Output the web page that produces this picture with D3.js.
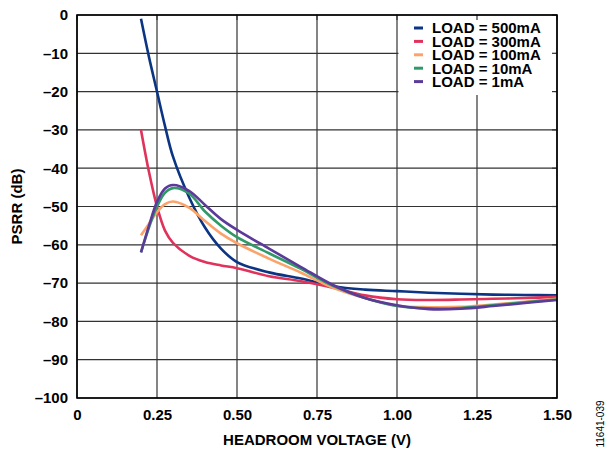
<!DOCTYPE html>
<html>
<head>
<meta charset="utf-8">
<script src="https://cdn.jsdelivr.net/npm/d3@7"></script>
<style>
  body { margin: 0; background: #fff; }
  text { font-family: "Liberation Sans", Arial, Helvetica, sans-serif; }
</style>
</head>
<body>
<div id="chart"></div>
<script>
// headroom voltage (V) sample points
const headroom = [0.2, 0.225, 0.25, 0.275, 0.3, 0.35, 0.4, 0.45, 0.5, 0.6, 0.7, 0.8, 0.9, 1.0, 1.1, 1.2, 1.3, 1.4, 1.5];

// PSRR (dB) per load
const load500mA = [-1, -11, -20, -29, -37, -47.5, -55.5, -61, -64.5, -67.2, -68.8, -70.8, -71.7, -72.1, -72.5, -72.8, -73, -73.1, -73.2];
const load300mA = [-30, -41, -50, -56.3, -59.5, -62.8, -64.5, -65.4, -66.1, -68.2, -69.5, -71.2, -73.2, -74.2, -74.4, -74.3, -74.1, -73.9, -73.6];
const load100mA = [-57.5, -54.5, -51.5, -49.4, -48.7, -50.3, -53.8, -57.1, -59.6, -63.6, -67.3, -71.2, -73.9, -75.9, -76.3, -76.2, -75.6, -74.9, -74.1];
const load10mA  = [-62, -55.5, -50, -46.4, -45.2, -46.6, -51.3, -55, -58, -62.2, -66.3, -70.7, -73.9, -76, -76.6, -76.5, -75.8, -75, -74.3];
const load1mA   = [-62, -55, -48.8, -45.3, -44.4, -45.9, -49.6, -53.3, -56.1, -61, -65.8, -70.5, -73.9, -75.8, -76.8, -76.7, -76, -75.2, -74.4];

const seriesNames = ["LOAD = 500mA", "LOAD = 300mA", "LOAD = 100mA", "LOAD = 10mA", "LOAD = 1mA"];
const seriesValues = [load500mA, load300mA, load100mA, load10mA, load1mA];
const seriesColors = ["#0b3583", "#e0325a", "#fba36b", "#2f9a68", "#5c3a99"];

const xTicks = [0, 0.25, 0.5, 0.75, 1.0, 1.25, 1.5];
const xTickLabels = ["0", "0.25", "0.50", "0.75", "1.00", "1.25", "1.50"];
const yTicks = [0, -10, -20, -30, -40, -50, -60, -70, -80, -90, -100];

const W = 610, H = 450;
const MARGIN = { LEFT: 77, RIGHT: 53, TOP: 15, BOTTOM: 52 };
const WIDTH = W - MARGIN.LEFT - MARGIN.RIGHT;
const HEIGHT = H - MARGIN.TOP - MARGIN.BOTTOM;

const svg = d3.select("#chart").append("svg")
    .attr("width", W)
    .attr("height", H);

const g = svg.append("g")
    .attr("transform", `translate(${MARGIN.LEFT}, ${MARGIN.TOP})`);

const x = d3.scaleLinear().domain([0, 1.5]).range([0, WIDTH]);
const y = d3.scaleLinear().domain([-100, 0]).range([HEIGHT, 0]);

// grid
g.append("g")
    .selectAll("line")
    .data(xTicks)
    .join("line")
    .attr("x1", d => x(d)).attr("x2", d => x(d))
    .attr("y1", 0).attr("y2", HEIGHT)
    .attr("stroke", "#333").attr("stroke-width", 1.2);

g.append("g")
    .selectAll("line")
    .data(yTicks)
    .join("line")
    .attr("x1", 0).attr("x2", WIDTH)
    .attr("y1", d => y(d)).attr("y2", d => y(d))
    .attr("stroke", "#333").attr("stroke-width", 1.2);

// curves
const line = d3.line()
    .x(d => x(d[0]))
    .y(d => y(d[1]))
    .curve(d3.curveCatmullRom.alpha(0.5));

seriesValues.forEach((vals, i) => {
    g.append("path")
        .datum(headroom.map((h, j) => [h, vals[j]]))
        .attr("fill", "none")
        .attr("stroke", seriesColors[i])
        .attr("stroke-width", 2.6)
        .attr("stroke-linejoin", "round")
        .attr("d", line);
});

// legend box (covers the grid behind it)
const legend = g.append("g");
legend.append("rect")
    .attr("x", x(1.0) + 1.5)
    .attr("y", 1)
    .attr("width", WIDTH - x(1.0) - 3)
    .attr("height", 79)
    .attr("fill", "#fff");

seriesNames.forEach((name, i) => {
    const cy = 13 + i * 13.4;
    legend.append("line")
        .attr("x1", 337).attr("x2", 346)
        .attr("y1", cy).attr("y2", cy)
        .attr("stroke", seriesColors[i])
        .attr("stroke-width", 3);
    legend.append("text")
        .attr("x", 355)
        .attr("y", cy)
        .attr("dy", "0.36em")
        .style("font-size", "15px")
        .style("font-weight", "bold")
        .text(name);
});

// inner tick stubs on the right and top edges (show over legend)
g.append("g")
    .selectAll("line")
    .data(yTicks)
    .join("line")
    .attr("x1", WIDTH - 5).attr("x2", WIDTH)
    .attr("y1", d => y(d)).attr("y2", d => y(d))
    .attr("stroke", "#333").attr("stroke-width", 1.2);
g.append("g")
    .selectAll("line")
    .data(xTicks)
    .join("line")
    .attr("x1", d => x(d)).attr("x2", d => x(d))
    .attr("y1", 0).attr("y2", 5)
    .attr("stroke", "#333").attr("stroke-width", 1.2);

// frame
g.append("rect")
    .attr("width", WIDTH)
    .attr("height", HEIGHT)
    .attr("fill", "none")
    .attr("stroke", "#000")
    .attr("stroke-width", 1.6);

// axes (labels only)
const xAxis = g.append("g")
    .attr("transform", `translate(0, ${HEIGHT})`)
    .call(d3.axisBottom(x).tickValues(xTicks).tickSize(0).tickPadding(11)
        .tickFormat((d, i) => xTickLabels[i]));
const yAxis = g.append("g")
    .call(d3.axisLeft(y).tickValues(yTicks).tickSize(0).tickPadding(9)
        .tickFormat(d => d === 0 ? "0" : "\u2013" + Math.abs(d)));

[xAxis, yAxis].forEach(a => {
    a.select(".domain").remove();
    a.selectAll("text")
        .style("font-family", "'Liberation Sans', Arial, sans-serif")
        .style("font-size", "15px")
        .style("font-weight", "bold")
        .attr("fill", "#000");
});

// axis titles
g.append("text")
    .attr("x", WIDTH / 2)
    .attr("y", HEIGHT + 47)
    .attr("text-anchor", "middle")
    .style("font-size", "15px")
    .style("font-weight", "bold")
    .text("HEADROOM VOLTAGE (V)");

g.append("text")
    .attr("transform", "rotate(-90)")
    .attr("x", -HEIGHT / 2)
    .attr("y", -55)
    .attr("text-anchor", "middle")
    .style("font-size", "15px")
    .style("font-weight", "bold")
    .text("PSRR (dB)");

// figure id
svg.append("text")
    .attr("transform", "translate(604, 424) rotate(-90)")
    .attr("text-anchor", "middle")
    .style("font-size", "10px")
    .text("11641-039");
</script>
</body>
</html>
